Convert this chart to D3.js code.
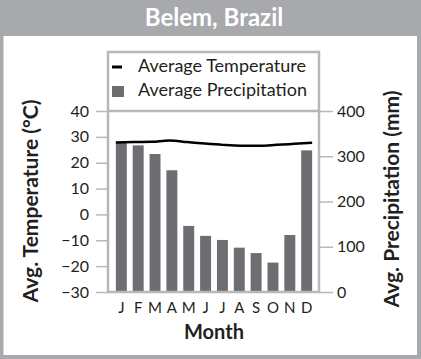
<!DOCTYPE html>
<html>
<head>
<meta charset="utf-8">
<script src="https://cdn.jsdelivr.net/npm/d3@7"></script>
<style>
  body { margin: 0; background: #fff; }
  text { font-family: Lato, "Open Sans", sans-serif; fill: #231f20; }
</style>
</head>
<body>
<svg id="chart" width="421" height="359"></svg>
<script>
// Belem, Brazil climate chart

var months = ['J', 'F', 'M', 'A', 'M', 'J', 'J', 'A', 'S', 'O', 'N', 'D'];
var precipitation = [330, 324, 305, 269, 146, 124, 115, 98, 86, 65, 126, 313];
var temperature = [27.8, 28.0, 28.1, 28.6, 28.0, 27.4, 26.9, 26.6, 26.6, 26.9, 27.3, 27.7];
var tempTicks = [-30, -20, -10, 0, 10, 20, 30, 40];
var precipTicks = [0, 100, 200, 300, 400];

var frameGray = '#a7a9ac';
var boxGray = '#b7b8ba';
var barGray = '#6d6e71';

var svg = d3.select('#chart');

// outer frame and title band
svg.append('rect')
    .attr('x', 0).attr('y', 0)
    .attr('width', 421).attr('height', 359)
    .attr('fill', frameGray);
svg.append('rect')
    .attr('x', 3.5).attr('y', 36)
    .attr('width', 413.5).attr('height', 319)
    .attr('fill', '#fff');
svg.append('text')
    .attr('x', 214).attr('y', 26)
    .attr('text-anchor', 'middle')
    .style('font-size', '24px')
    .style('font-weight', 'bold')
    .style('fill', '#fff')
    .text('Belem, Brazil');

var plotLeft = 108, plotRight = 319, plotTop = 111, plotBottom = 292;

var x = d3.scaleBand()
    .domain(d3.range(months.length))
    .range([113, 315])
    .paddingInner(0.35)
    .paddingOuter(0.17);

// line runs from left edge of first bar to right edge of last bar
var xLine = d3.scalePoint()
    .domain(d3.range(months.length))
    .range([x(0), x(months.length - 1) + x.bandwidth()]);

var yTemp = d3.scaleLinear().domain([-30, 40]).range([plotBottom, plotTop]);
var yPrec = d3.scaleLinear().domain([0, 400]).range([plotBottom, plotTop]);

// bars
svg.append('g').selectAll('rect')
    .data(precipitation)
  .enter().append('rect')
    .attr('x', function(d, i) { return x(i); })
    .attr('y', function(d) { return yPrec(d); })
    .attr('width', x.bandwidth())
    .attr('height', function(d) { return plotBottom - yPrec(d); })
    .attr('fill', barGray);

// temperature line
var line = d3.line()
    .x(function(d, i) { return xLine(i); })
    .y(function(d) { return yTemp(d); })
    .curve(d3.curveMonotoneX);
svg.append('path')
    .datum(temperature)
    .attr('d', line)
    .attr('fill', 'none')
    .attr('stroke', '#000')
    .attr('stroke-width', 2.5);

// box (legend + plot)
svg.append('rect')
    .attr('x', plotLeft).attr('y', 52)
    .attr('width', plotRight - plotLeft).attr('height', plotBottom - 52)
    .attr('fill', 'none')
    .attr('stroke', boxGray)
    .attr('stroke-width', 2.5);
svg.append('line')
    .attr('x1', plotLeft).attr('x2', plotRight)
    .attr('y1', plotTop).attr('y2', plotTop)
    .attr('stroke', boxGray)
    .attr('stroke-width', 2.5);

// axes
var leftAxis = d3.axisLeft(yTemp)
    .tickValues(tempTicks)
    .tickSize(12)
    .tickPadding(7)
    .tickFormat(function(d) { return d < 0 ? '\u2212' + Math.abs(d) : d; });
var gl = svg.append('g').attr('transform', 'translate(' + plotLeft + ',0)').call(leftAxis);

var rightAxis = d3.axisRight(yPrec)
    .tickValues(precipTicks)
    .tickSize(14)
    .tickPadding(4);
var gr = svg.append('g').attr('transform', 'translate(' + plotRight + ',0)').call(rightAxis);

[gl, gr].forEach(function(g) {
  g.select('.domain').remove();
  g.selectAll('line').attr('stroke', boxGray).attr('stroke-width', 1.5);
  g.selectAll('text')
      .style('font-family', 'Lato, sans-serif')
      .style('font-size', '16px')
      .attr('fill', '#231f20');
});

// month labels
svg.append('g').selectAll('text')
    .data(months)
  .enter().append('text')
    .attr('x', function(d, i) { return x(i) + x.bandwidth() / 2; })
    .attr('y', 313)
    .attr('text-anchor', 'middle')
    .style('font-size', '15px')
    .text(function(d) { return d; });

// axis titles
svg.append('text')
    .attr('x', 214).attr('y', 339)
    .attr('text-anchor', 'middle')
    .style('font-size', '20px')
    .style('font-weight', 'bold')
    .text('Month');

svg.append('text')
    .attr('transform', 'translate(38,201) rotate(-90)')
    .attr('text-anchor', 'middle')
    .style('font-size', '21px')
    .style('font-weight', 'bold')
    .text('Avg. Temperature (\u00b0C)');

svg.append('text')
    .attr('transform', 'translate(399,199) rotate(-90)')
    .attr('text-anchor', 'middle')
    .style('font-size', '21px')
    .style('font-weight', 'bold')
    .text('Avg. Precipitation (mm)');

// legend
var legend = svg.append('g');
legend.append('line')
    .attr('x1', 112).attr('x2', 122)
    .attr('y1', 67).attr('y2', 67)
    .attr('stroke', '#000')
    .attr('stroke-width', 3);
legend.append('rect')
    .attr('x', 112).attr('y', 86)
    .attr('width', 12).attr('height', 11)
    .attr('fill', barGray);
legend.append('text')
    .attr('x', 138).attr('y', 72)
    .style('font-size', '18px')
    .text('Average Temperature');
legend.append('text')
    .attr('x', 138).attr('y', 96)
    .style('font-size', '18px')
    .text('Average Precipitation');
</script>
</body>
</html>
